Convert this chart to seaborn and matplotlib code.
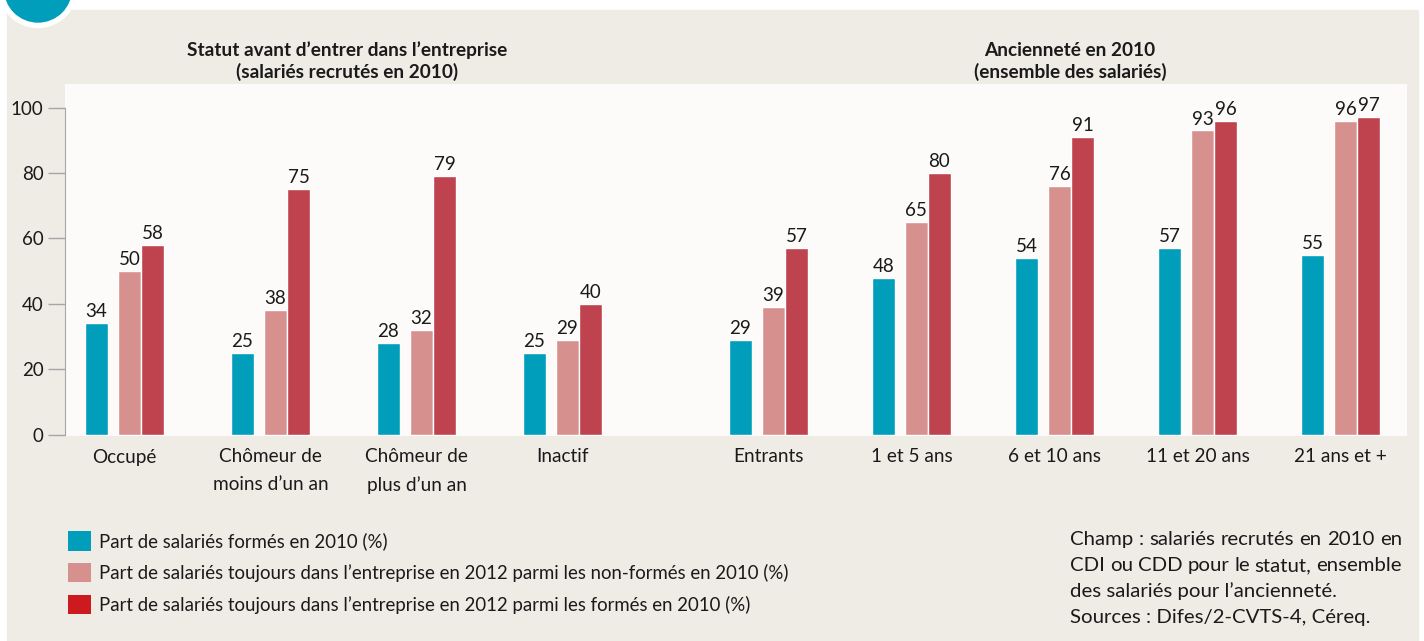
import matplotlib
matplotlib.use("Agg")
import numpy as np
import matplotlib.pyplot as plt
import seaborn as sns
from matplotlib.patches import Rectangle, Circle, Patch

# categories
statut = ["Occupé", "Chômeur de\nmoins d’un an", "Chômeur de\nplus d’un an", "Inactif"]
anciennete = ["Entrants", "1 et 5 ans", "6 et 10 ans", "11 et 20 ans", "21 ans et +"]
categories = statut + anciennete

# values (%)
formes_2010 = [34, 25, 28, 25, 29, 48, 54, 57, 55]
restes_non_formes = [50, 38, 32, 29, 39, 65, 76, 93, 96]
restes_formes = [58, 75, 79, 40, 57, 80, 91, 96, 97]

series_names = [
    "Part de salariés formés en 2010 (%)",
    "Part de salariés toujours dans l’entreprise en 2012 parmi les non-formés en 2010 (%)",
    "Part de salariés toujours dans l’entreprise en 2012 parmi les formés en 2010 (%)",
]
titles = [
    ["Statut avant d’entrer dans l’entreprise", "(salariés recrutés en 2010)"],
    ["Ancienneté en 2010", "(ensemble des salariés)"],
]
note_lines = [
    "Champ : salariés recrutés en 2010 en",
    "CDI ou CDD pour le statut, ensemble",
    "des salariés pour l’ancienneté.",
    "Sources : Difes/2-CVTS-4, Céreq.",
]

BEIGE = "#EFECE6"
TEAL = "#009EBB"
PINK = "#D6908E"
RED = "#BE434F"
LEGEND_RED = "#CD1A1F"
TEXT = "#1A1A1A"

sns.set_style("white")
plt.rcParams["font.family"] = ["Lato", "DejaVu Sans"]

fig = plt.figure(figsize=(14.24, 6.41), dpi=100, facecolor="white")

# background in pixel coordinates
bg = fig.add_axes([0, 0, 1, 1], zorder=-1)
bg.set_xlim(0, 1424)
bg.set_ylim(641, 0)
bg.axis("off")
bg.add_patch(Rectangle((7, 10), 1411, 631, color=BEIGE))
bg.add_patch(Circle((38, -11.5), 39, color="white"))
bg.add_patch(Circle((38, -11.5), 33.5, color=TEAL))

ax = fig.add_axes([65 / 1424, (641 - 436) / 641, 1342 / 1424, 352 / 641])
ax.set_facecolor("#FCFBFA")

group_x = np.array([0, 1, 2, 3] + [4.41 + 0.98 * k for k in range(5)])
offsets = [-0.192, 0.034, 0.192]
bar_w = 0.1575

for vals, off, col in zip([formes_2010, restes_non_formes, restes_formes], offsets, [TEAL, PINK, RED]):
    xs = group_x + off
    sns.barplot(x=xs, y=vals, native_scale=True, width=bar_w / 0.98, color=col,
                saturation=1, errorbar=None, ax=ax)
    for x, v in zip(xs, vals):
        ax.text(x, v + 1.8, str(v), ha="center", va="baseline", fontsize=13.5, color=TEXT)

ax.set_xlim(-0.4075, 8.784)
ax.set_ylim(-0.45, 107.2)
ax.set_xticks(group_x, categories)
ax.set_yticks(range(0, 101, 20))
ax.set_xlabel("")
ax.set_ylabel("")
ax.tick_params(axis="x", bottom=False, length=0, pad=9, labelsize=13.7, labelcolor=TEXT)
ax.tick_params(axis="y", left=True, length=12, width=1, color="#A6A6A6", pad=3.5,
               labelsize=13.5, labelcolor=TEXT)
for lbl in ax.get_xticklabels():
    lbl.set_linespacing(1.75)
for s in ["top", "right", "bottom"]:
    ax.spines[s].set_visible(False)
ax.spines["left"].set_color("#A6A6A6")
ax.spines["left"].set_bounds(0, 100)

# section titles
for (l1, l2), cx in zip(titles, [347, 1070]):
    bg.text(cx, 56, l1, ha="center", va="baseline", fontsize=13.7, fontweight="bold", color=TEXT)
    bg.text(cx, 78, l2, ha="center", va="baseline", fontsize=13.7, fontweight="bold", color=TEXT)

# legend
handles = [Patch(facecolor=c, edgecolor="none") for c in [TEAL, PINK, LEGEND_RED]]
leg = fig.legend(handles, series_names, loc="upper left",
                 bbox_to_anchor=(68 / 1424, 1 - 531 / 641), frameon=False, fontsize=13.4,
                 handlelength=1.24, handleheight=1.24, handletextpad=0.43,
                 labelspacing=0.66, borderpad=0, borderaxespad=0)
for t in leg.get_texts():
    t.set_color(TEXT)

# note, justified
renderer = fig.canvas.get_renderer()
x0, x1 = 1070, 1402
for i, line in enumerate(note_lines):
    y = 545 + 26 * i
    if i < 2:
        words = line.split(" ")
        texts = [bg.text(0, y, w, fontsize=14.7, va="baseline", color=TEXT) for w in words]
        widths = [t.get_window_extent(renderer).width for t in texts]
        gap = (x1 - x0 - sum(widths)) / (len(words) - 1)
        x = x0
        for t, w in zip(texts, widths):
            t.set_x(x)
            x += w + gap
    else:
        bg.text(x0, y, line, fontsize=14.7, va="baseline", color=TEXT)

fig.savefig("out.png", dpi=100, facecolor=fig.get_facecolor())
